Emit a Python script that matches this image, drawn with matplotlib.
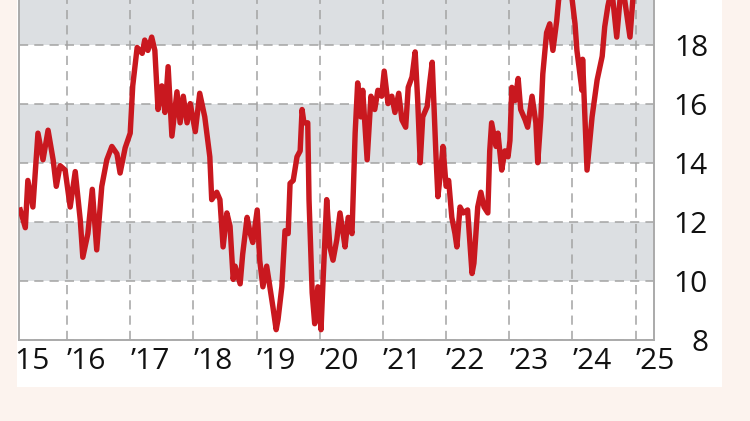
import numpy as np
import matplotlib
matplotlib.use("Agg")
import matplotlib.pyplot as plt
from matplotlib.patches import Rectangle
import matplotlib.transforms as mtrans

plt.rcParams['font.family'] = ['Open Sans', 'DejaVu Sans']

# traced series (decimal year, value)
years = [2015.26, 2015.34, 2015.38, 2015.46, 2015.54, 2015.62, 2015.70, 2015.78, 2015.83, 2015.89,
         2015.97, 2016.05, 2016.13, 2016.21, 2016.25, 2016.33, 2016.40, 2016.47, 2016.55, 2016.63,
         2016.71, 2016.79, 2016.84, 2016.92, 2017.00, 2017.04, 2017.11, 2017.19, 2017.23, 2017.28,
         2017.34, 2017.39, 2017.44, 2017.50, 2017.55, 2017.60, 2017.66, 2017.74, 2017.79, 2017.84,
         2017.90, 2017.95, 2018.03, 2018.10, 2018.18, 2018.26, 2018.29, 2018.37, 2018.42, 2018.47,
         2018.53, 2018.58, 2018.63, 2018.66, 2018.74, 2018.78, 2018.85, 2018.90, 2018.94, 2019.01,
         2019.05, 2019.10, 2019.16, 2019.21, 2019.26, 2019.31, 2019.34, 2019.40, 2019.45, 2019.50,
         2019.53, 2019.58, 2019.64, 2019.69, 2019.72, 2019.75, 2019.81, 2019.83, 2019.88, 2019.92,
         2019.97, 2020.02, 2020.05, 2020.11, 2020.16, 2020.21, 2020.27, 2020.32, 2020.37, 2020.40,
         2020.45, 2020.51, 2020.56, 2020.60, 2020.65, 2020.68, 2020.75, 2020.81, 2020.87, 2020.92,
         2020.98, 2021.02, 2021.08, 2021.14, 2021.19, 2021.25, 2021.30, 2021.36, 2021.40, 2021.46,
         2021.51, 2021.55, 2021.59, 2021.63, 2021.70, 2021.74, 2021.78, 2021.84, 2021.87, 2021.92,
         2021.95, 2022.00, 2022.04, 2022.09, 2022.14, 2022.17, 2022.22, 2022.27, 2022.34, 2022.41,
         2022.44, 2022.50, 2022.55, 2022.60, 2022.66, 2022.69, 2022.72, 2022.79, 2022.82, 2022.88,
         2022.93, 2022.98, 2023.01, 2023.04, 2023.09, 2023.14, 2023.18, 2023.25, 2023.29, 2023.36,
         2023.42, 2023.45, 2023.50, 2023.53, 2023.59, 2023.64, 2023.69, 2023.75, 2023.78, 2023.88,
         2023.99, 2024.04, 2024.07, 2024.15, 2024.16, 2024.23, 2024.31, 2024.39, 2024.47, 2024.51,
         2024.56, 2024.62, 2024.70, 2024.78, 2024.91, 2024.99]
values = [12.4, 11.8, 13.4, 12.5, 15.0, 14.1, 15.1, 14.1, 13.2, 13.9,
          13.75, 12.5, 13.7, 12.05, 10.8, 11.6, 13.1, 11.05, 13.2, 14.1,
          14.55, 14.3, 13.65, 14.5, 15.0, 16.6, 17.9, 17.7, 18.15, 17.8,
          18.25, 17.8, 15.8, 16.6, 15.7, 17.25, 14.9, 16.4, 15.35, 16.25,
          15.35, 16.0, 15.05, 16.35, 15.55, 14.2, 12.75, 13.0, 12.75, 11.15,
          12.3, 11.85, 10.05, 10.5, 9.9, 10.9, 12.15, 11.6, 11.3, 12.4,
          10.7, 9.8, 10.5, 9.8, 9.1, 8.35, 8.7, 9.8, 11.7, 11.6,
          13.3, 13.4, 14.2, 14.4, 15.8, 15.35, 15.35, 12.75, 9.6, 8.55,
          9.8, 8.35, 9.9, 12.75, 11.15, 10.7, 11.4, 12.3, 11.6, 11.15,
          12.15, 11.6, 15.0, 16.7, 15.55, 16.45, 14.1, 16.25, 15.8, 16.45,
          16.25, 17.1, 16.0, 16.25, 15.7, 16.35, 15.45, 15.2, 16.55, 16.9,
          17.75, 16.1, 14.0, 15.55, 15.9, 16.7, 17.4, 14.2, 12.85, 13.85,
          14.55, 13.2, 13.4, 12.15, 11.6, 11.15, 12.5, 12.3, 12.4, 10.25,
          10.6, 12.5, 13.0, 12.5, 12.3, 14.4, 15.35, 14.55, 15.0, 13.75,
          14.4, 14.2, 14.75, 16.55, 16.1, 16.85, 15.8, 15.45, 15.2, 16.25,
          15.35, 14.0, 15.55, 17.0, 18.4, 18.7, 17.8, 18.8, 19.5, 20.4,
          19.6, 18.7, 17.8, 16.45, 17.5, 13.75, 15.55, 16.8, 17.6, 18.6,
          19.3, 19.9, 18.25, 20.2, 18.25, 20.5]

xticks = list(range(2016, 2026))
xlabels = ["\u2019" + str(y)[2:] for y in xticks]
first_label = "\u201915"
yticks = [8, 10, 12, 14, 16, 18, 20]
bands = [(10, 12), (14, 16), (18, 20)]

pink = '#fcf3ee'
fig = plt.figure(figsize=(7.5, 4.21), dpi=100, facecolor=pink)
# white panel
fig.patches.append(Rectangle((17/750, 34/421), 705/750, 1, transform=fig.transFigure,
                             facecolor='white', edgecolor='none', zorder=-1))

ax = fig.add_axes([19/750, 1 - 340/421, 635/750, 354.6/421])
ax.set_facecolor('white')
for lo, hi in bands:
    ax.axhspan(lo, hi, color='#dcdfe2', lw=0, zorder=0)

ax.plot(years, values, color='#c9181f', lw=3.9, solid_joinstyle='round', zorder=3)

ax.set_xticks(xticks)
ax.set_xticklabels(xlabels, ha='left')
ax.set_yticks(yticks)
ax.set_yticklabels([str(v) for v in yticks], ha='right')
ax.set_xlim(2015.24, 2025.29)
ax.set_ylim(8, 20)
ax.yaxis.tick_right()
ax.tick_params(axis='x', length=0, pad=5, labelsize=21.5, colors='#111111')
ax.tick_params(axis='y', length=0, pad=38.9, labelsize=21.5, colors='#111111')

# first year label sits partly outside the cropped panel
off = mtrans.offset_copy(ax.get_xaxis_transform(), fig=fig, y=-5, units='points')
ax.text(2015.11, 0, first_label, transform=off, ha='left', va='top',
        fontsize=21.5, color='#111111', clip_on=False)

ax.grid(True, color='#a3a3a3', lw=1.1, ls=(0, (6, 4)), zorder=1)
ax.set_axisbelow(True)
for s in ['left', 'bottom', 'right']:
    ax.spines[s].set_color('#aaaaaa')
    ax.spines[s].set_linewidth(1.4)
ax.spines['top'].set_visible(False)

# crop strips
for r in [(0, 0, 17/750, 1), (0, 0, 1, 34/421), (722/750, 0, 1, 1)]:
    fig.patches.append(Rectangle(r[:2], r[2], r[3], transform=fig.transFigure,
                                 facecolor=pink, edgecolor='none', zorder=10))

fig.savefig('out.png', dpi=100, facecolor=pink)
